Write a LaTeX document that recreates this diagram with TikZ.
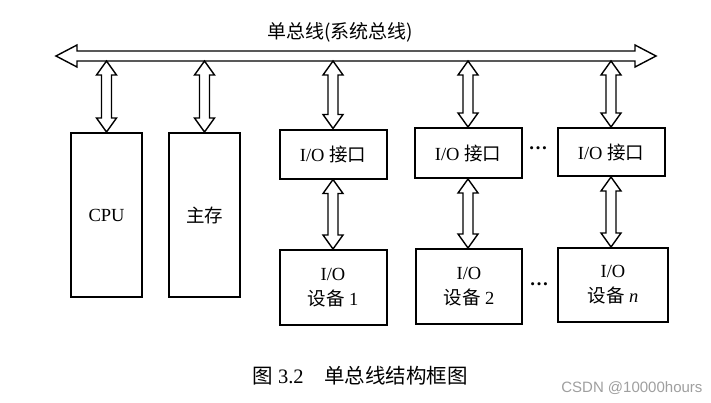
\documentclass[tikz,border=0pt]{standalone}
\usepackage{fontspec}
\usetikzlibrary{calc}
\setmainfont{Liberation Serif}
\setsansfont{Liberation Sans}
\newfontfamily\cjk{Noto Sans CJK SC}
\newcommand\vbiarrow[2]{\path[conn] let \p1=#1, \p2=#2 in
  (\x1,\y1) -- (\x1-10pt,\y1-14pt) -- (\x1-5pt,\y1-14pt) -- (\x1-5pt,\y2+14pt)
  -- (\x1-10pt,\y2+14pt) -- (\x1,\y2) -- (\x1+10pt,\y2+14pt) -- (\x1+5pt,\y2+14pt)
  -- (\x1+5pt,\y1-14pt) -- (\x1+10pt,\y1-14pt) -- cycle;}
\begin{document}
\begin{tikzpicture}[x=1pt,y=-1pt,
  box/.style={draw, line width=2pt, inner sep=0pt, align=center,
    font=\fontsize{18.5}{25}\selectfont},
  conn/.style={draw, line width=1.4pt, fill=white, line join=miter},
  dotsstyle/.style={font=\fontsize{19}{19}\selectfont\bfseries, inner sep=0pt}]
\useasboundingbox (0,0) rectangle (711,402);
\fill[white] (0,0) rectangle (711,402);

% bus
\coordinate (busL) at (56,56);
\coordinate (busR) at (656,56);
\coordinate (busbot) at (0,61);
\path[conn] let \p1=(busL), \p2=(busR) in
  (\x1,\y1) -- (\x1+21pt,\y1+11pt) -- (\x1+21pt,\y1+5pt) -- (\x2-21pt,\y1+5pt)
  -- (\x2-21pt,\y1+11pt) -- (\x2,\y2) -- (\x2-21pt,\y1-11pt) -- (\x2-21pt,\y1-5pt)
  -- (\x1+21pt,\y1-5pt) -- (\x1+21pt,\y1-11pt) -- cycle;
\node[font=\fontsize{19}{21}\selectfont\cjk] (title) at (340,32) {单总线(系统总线)};

% boxes
\node[box, minimum width=71, minimum height=164] (cpu) at (106.5,215) {CPU};
\node[box, minimum width=71, minimum height=164] (mem) at (204.5,215) {\cjk 主存};
\node[box, minimum width=107, minimum height=49] (if1) at (333,154) {I/O {\cjk 接口}};
\node[box, minimum width=107, minimum height=50] (if2) at (468,153) {I/O {\cjk 接口}};
\node[box, minimum width=107, minimum height=48] (if3) at (611,152) {I/O {\cjk 接口}};
\node[box, minimum width=107, minimum height=75] (dev1) at (333,287.5) {I/O\\{\cjk 设备} 1};
\node[box, minimum width=106, minimum height=75] (dev2) at (469,286.5) {I/O\\{\cjk 设备} 2};
\node[box, minimum width=110, minimum height=74] (dev3) at (613,285) {I/O\\{\cjk 设备} \textit{n}};

\node[dotsstyle] (d1) at (538,148) {…};
\node[dotsstyle] (d2) at (539,284) {…};

% arrows
\vbiarrow{(busbot -| cpu.north)}{(cpu.north)}
\vbiarrow{(busbot -| mem.north)}{(mem.north)}
\vbiarrow{(busbot -| if1.north)}{(if1.north)}
\vbiarrow{(busbot -| if2.north)}{(if2.north)}
\vbiarrow{(busbot -| if3.north)}{(if3.north)}
\vbiarrow{(if1.south)}{(if1.south |- dev1.north)}
\vbiarrow{(if2.south)}{(if2.south |- dev2.north)}
\vbiarrow{(if3.south)}{(if3.south |- dev3.north)}

% caption
\node[font=\fontsize{20.5}{22}\selectfont] (cap) at (360,376) {{\cjk 图} 3.2\quad{\cjk 单总线结构框图}};
\node[anchor=east, font=\sffamily\fontsize{15}{17}\selectfont, text=gray!75] (wm) at (706,388) {CSDN @10000hours};
\end{tikzpicture}
\end{document}
